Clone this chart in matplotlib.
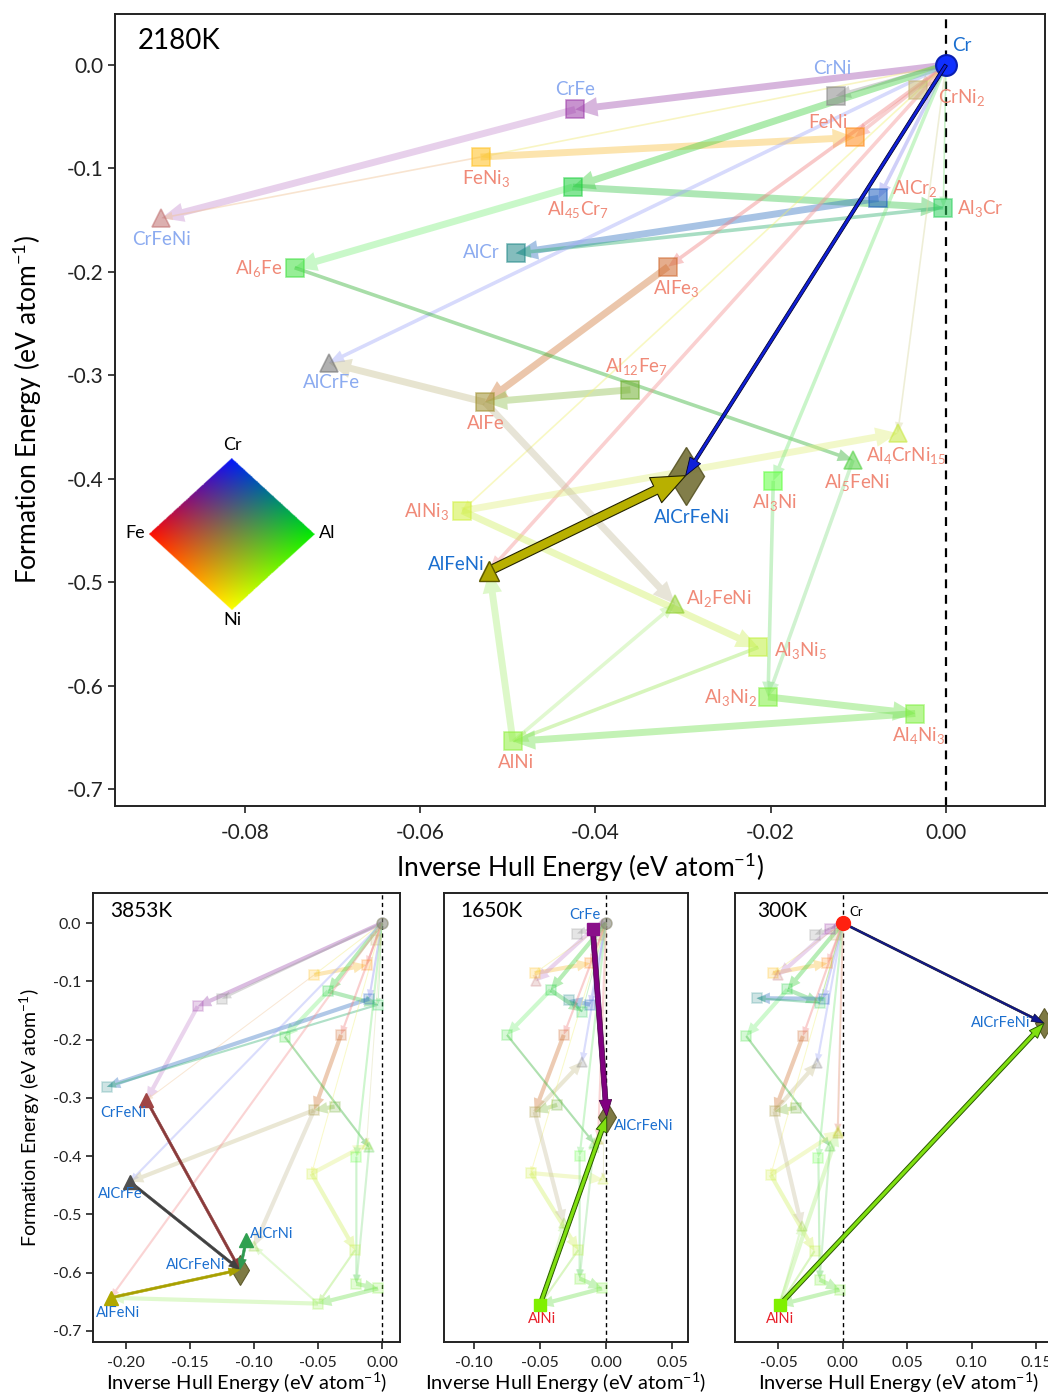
import numpy as np
import matplotlib
matplotlib.use("Agg")
import matplotlib.pyplot as plt
from matplotlib.patches import FancyArrowPatch, ArrowStyle

plt.rcParams['font.family'] = ['Lato', 'DejaVu Sans']
plt.rcParams['mathtext.fontset'] = 'custom'
plt.rcParams['mathtext.rm'] = 'Lato'
plt.rcParams['mathtext.it'] = 'Lato:italic'
plt.rcParams['mathtext.bf'] = 'Lato:bold'
plt.rcParams['mathtext.default'] = 'regular'
plt.rcParams['axes.unicode_minus'] = False

# ------------------------------------------------------------------ data
phases = ["Cr", "CrNi", "CrNi2", "CrFe", "FeNi", "FeNi3", "Al45Cr7", "AlCr2", "Al3Cr",
          "CrFeNi", "AlCr", "Al6Fe", "AlFe3", "AlCrFe", "Al12Fe7", "AlFe", "Al4CrNi15",
          "Al5FeNi", "AlCrFeNi", "Al3Ni", "AlNi3", "AlFeNi", "Al2FeNi", "Al3Ni5", "Al3Ni2",
          "Al4Ni3", "AlNi", "AlCrNi"]
labels = ["Cr", "CrNi", "CrNi$_2$", "CrFe", "FeNi", "FeNi$_3$", "Al$_{45}$Cr$_7$", "AlCr$_2$",
          "Al$_3$Cr", "CrFeNi", "AlCr", "Al$_6$Fe", "AlFe$_3$", "AlCrFe", "Al$_{12}$Fe$_7$",
          "AlFe", "Al$_4$CrNi$_{15}$", "Al$_5$FeNi", "AlCrFeNi", "Al$_3$Ni", "AlNi$_3$",
          "AlFeNi", "Al$_2$FeNi", "Al$_3$Ni$_5$", "Al$_3$Ni$_2$", "Al$_4$Ni$_3$", "AlNi", "AlCrNi"]

# 2180 K (main panel): inverse hull energy / formation energy (eV/atom)
hull_2180 = [0.0, -0.0126, -0.0032, -0.0423, -0.0104, -0.0531, -0.0426, -0.0077, -0.0003,
             -0.0895, -0.0491, -0.0743, -0.0317, -0.0704, -0.0360, -0.0526, -0.0055,
             -0.0106, -0.0297, -0.0197, -0.0552, -0.0521, -0.0309, -0.0214, -0.0203,
             -0.0035, -0.0494, np.nan]
form_2180 = [0.0, -0.030, -0.024, -0.043, -0.070, -0.089, -0.118, -0.129, -0.138,
             -0.148, -0.182, -0.196, -0.195, -0.288, -0.314, -0.326, -0.356,
             -0.382, -0.397, -0.402, -0.431, -0.489, -0.521, -0.563, -0.611,
             -0.627, -0.654, np.nan]

# 3853 K
hull_3853 = [0.0, -0.125, -0.005, -0.144, -0.012, -0.053, -0.042, -0.010, -0.003,
             -0.184, -0.215, -0.076, -0.032, -0.197, -0.037, -0.053, -0.012,
             -0.010, -0.111, -0.020, -0.055, -0.212, -0.100, -0.021, -0.020,
             -0.003, -0.050, -0.106]
form_3853 = [0.0, -0.130, -0.030, -0.143, -0.072, -0.089, -0.117, -0.130, -0.140,
             -0.304, -0.281, -0.195, -0.192, -0.444, -0.315, -0.321, -0.380,
             -0.385, -0.595, -0.401, -0.430, -0.643, -0.555, -0.561, -0.619,
             -0.627, -0.653, -0.544]

# 1650 K
hull_1650 = [0.0, -0.022, -0.005, -0.010, -0.012, -0.054, -0.042, -0.012, -0.018,
             -0.053, -0.028, -0.075, -0.032, -0.018, -0.037, -0.054, -0.002,
             -0.009, 0.0005, -0.020, -0.057, -0.006, -0.032, -0.021, -0.020,
             -0.003, -0.050, np.nan]
form_1650 = [0.0, -0.018, -0.020, -0.011, -0.069, -0.086, -0.115, -0.140, -0.152,
             -0.100, -0.132, -0.192, -0.192, -0.238, -0.312, -0.324, -0.440,
             -0.378, -0.332, -0.400, -0.429, -0.370, -0.515, -0.561, -0.610,
             -0.627, -0.655, np.nan]

# 300 K
hull_300 = [0.0, -0.022, -0.005, -0.010, -0.012, -0.054, -0.043, -0.015, -0.018,
            -0.050, -0.067, -0.075, -0.031, -0.020, -0.036, -0.053, -0.004,
            -0.010, 0.156, -0.019, -0.056, -0.004, -0.032, -0.022, -0.018,
            -0.0026, -0.049, np.nan]
form_300 = [0.0, -0.020, -0.020, -0.011, -0.069, -0.086, -0.114, -0.130, -0.137,
            -0.090, -0.129, -0.194, -0.194, -0.240, -0.317, -0.323, -0.357,
            -0.383, -0.172, -0.403, -0.432, -0.360, -0.520, -0.563, -0.612,
            -0.629, -0.655, np.nan]

# reaction network (source -> product)
edge_src = ["Cr", "Cr", "Cr", "Cr", "FeNi3", "Cr", "CrFe", "FeNi3", "Cr", "Al45Cr7",
            "Al45Cr7", "Cr", "AlCr2", "Al3Cr", "Cr", "AlFe3", "Cr", "AlFe", "Al12Fe7",
            "Al6Fe", "Cr", "Cr", "AlNi3", "AlNi3", "AlFe", "AlNi", "AlNi", "Al3Ni5",
            "Al3Ni", "Al5FeNi", "Al3Ni2", "Al4Ni3", "Cr", "Cr", "Cr"]
edge_dst = ["CrFe", "CrNi", "CrNi2", "FeNi3", "FeNi", "FeNi", "CrFeNi", "CrFeNi", "Al45Cr7",
            "Al6Fe", "Al3Cr", "AlCr2", "AlCr", "AlCr", "AlFe3", "AlFe", "AlCrFe", "AlCrFe",
            "AlFe", "Al5FeNi", "AlFeNi", "AlNi3", "Al4CrNi15", "Al3Ni5", "Al2FeNi", "AlFeNi",
            "Al2FeNi", "AlNi", "Al3Ni2", "Al3Ni2", "Al4Ni3", "AlNi", "Al3Ni", "Al4CrNi15",
            "Al3Cr"]

# highlighted reactions
hl_main = [("Cr", "AlCrFeNi"), ("AlFeNi", "AlCrFeNi")]
hl_3853 = [("CrFeNi", "AlCrFeNi"), ("AlCrFe", "AlCrFeNi"), ("AlCrNi", "AlCrFeNi"),
           ("AlFeNi", "AlCrFeNi")]
hl_1650 = [("CrFe", "AlCrFeNi"), ("AlNi", "AlCrFeNi")]
hl_300 = [("Cr", "AlCrFeNi"), ("AlNi", "AlCrFeNi")]

# ------------------------------------------------------------------ styles
phase_color = {
    "Cr": "#1a3cff", "CrNi": "#8a8a8a", "CrNi2": "#c8b878", "CrFe": "#9b3aa8",
    "FeNi": "#ff8c1a", "FeNi3": "#ffc020", "Al45Cr7": "#20d040", "AlCr2": "#2060c0",
    "Al3Cr": "#30d060", "CrFeNi": "#c07070", "AlCr": "#208888", "Al6Fe": "#40e040",
    "AlFe3": "#d06a30", "AlCrFe": "#707070", "Al12Fe7": "#70b030", "AlFe": "#a09030",
    "Al4CrNi15": "#c8e840", "Al5FeNi": "#50d040", "AlCrFeNi": "#77733a", "Al3Ni": "#60ff40",
    "AlNi3": "#d0f040", "AlFeNi": "#b0a800", "Al2FeNi": "#90d030", "Al3Ni5": "#c0f040",
    "Al3Ni2": "#80f040", "Al4Ni3": "#80f040", "AlNi": "#90f040", "AlCrNi": "#30a050"}
tri = {"CrFeNi", "AlCrFe", "Al4CrNi15", "Al5FeNi", "AlFeNi", "Al2FeNi", "AlCrNi"}

def marker_of(p):
    if p == "Cr":
        return "o"
    if p == "AlCrFeNi":
        return "d"
    if p in tri:
        return "^"
    return "s"

edge_color = ["#a050b0", "#9a9a9a", "#c8c090", "#f0e870", "#f8c040", "#f09090", "#c890d0",
              "#f0c090", "#40d040", "#80f080", "#40c850", "#9090f0", "#3070c0", "#30b070",
              "#f08080", "#d07838", "#a0a8f8", "#c8c090", "#90c050", "#30b030", "#f49090",
              "#f0f070", "#e0f080", "#d0f060", "#c8c0a0", "#b0f080", "#b8f090", "#a0e860",
              "#80e080", "#90e090", "#70e050", "#70e050", "#80e880", "#d8d8a0", "#80e080"]
edge_weight = [3, 2, 2, 1, 3, 2, 3, 1, 3, 3, 3, 2, 3, 2, 2, 3, 2, 3, 3, 2, 2, 1, 3, 3, 3, 3,
               2, 2, 2, 2, 3, 3, 2, 1, 1]
TAIL = {1: 1.2, 2: 2.6, 3: 5.0}
HW = {1: 6.0, 2: 9.0, 3: 14.0}
HL = {1: 8.0, 2: 11.0, 3: 16.0}

salmon = "#f08a78"
lblue = "#8cabf0"
dblue = "#1a6ecf"
lab_color = {p: salmon for p in phases}
for p in ["CrNi", "CrFe", "CrFeNi", "AlCr", "AlCrFe"]:
    lab_color[p] = lblue
for p in ["Cr", "AlCrFeNi", "AlFeNi"]:
    lab_color[p] = dblue

# label offsets (pixels) for main panel: dx, dy, ha
lab_off = {
    "Cr": (6, 19, "left"), "CrNi": (-3, 28, "center"), "CrNi2": (20, -8, "left"),
    "CrFe": (0, 20, "center"), "FeNi": (-27, 15, "center"), "FeNi3": (6, -21, "center"),
    "Al45Cr7": (5, -22, "center"), "AlCr2": (14, 10, "left"), "Al3Cr": (14, -1, "left"),
    "CrFeNi": (0, -21, "center"), "AlCr": (-16, 1, "right"), "Al6Fe": (-13, -1, "right"),
    "AlFe3": (8, -22, "center"), "AlCrFe": (3, -20, "center"), "Al12Fe7": (6, 23, "center"),
    "AlFe": (1, -21, "center"), "Al4CrNi15": (-32, -22, "left"), "Al5FeNi": (4, -22, "center"),
    "AlCrFeNi": (6, -42, "center"), "Al3Ni": (1, -22, "center"), "AlNi3": (-13, -1, "right"),
    "AlFeNi": (-5, 6, "right"), "Al2FeNi": (11, 5, "left"), "Al3Ni5": (16, -3, "left"),
    "Al3Ni2": (-11, -1, "right"), "Al4Ni3": (3, -22, "center"), "AlNi": (3, -21, "center")}

W, H = 1048, 1397
fig = plt.figure(figsize=(W / 100, H / 100), dpi=100)


def ax_rect(l, t, r, b):
    return [l / W, 1 - b / H, (r - l) / W, (b - t) / H]


def arrow(ax, p, q, color, tail, hw, hl, alpha=1.0, ec=None, elw=0.0, z=2):
    st = ArrowStyle.Simple(head_length=hl, head_width=hw, tail_width=tail)
    a = FancyArrowPatch(p, q, arrowstyle=st, mutation_scale=1, shrinkA=0, shrinkB=0,
                        facecolor=color, edgecolor=(ec if ec else "none"), lw=elw,
                        alpha=alpha, zorder=z)
    ax.add_patch(a)


def draw_network(ax, hx, hy, scale, e_alpha, m_alpha, msize, skip):
    pos = {p: (hx[i], hy[i]) for i, p in enumerate(phases)}
    for s, d, c, w in zip(edge_src, edge_dst, edge_color, edge_weight):
        if s in skip or d in skip:
            continue
        if np.isnan(pos[s][0]) or np.isnan(pos[d][0]):
            continue
        arrow(ax, pos[s], pos[d], c, TAIL[w] * scale, HW[w] * scale, HL[w] * scale,
              alpha=e_alpha, z=2)
    for p in phases:
        if p in skip or np.isnan(pos[p][0]):
            continue
        m = marker_of(p)
        ms = msize * (1.05 if m == "^" else 1.0)
        if m == "o":
            ms = msize * 1.1
        ax.plot(pos[p][0], pos[p][1], marker=m, ms=ms, mfc=phase_color[p],
                mec=phase_color[p], mew=1.2, alpha=m_alpha, zorder=3, ls="none")
    return pos


def style_axes(ax, fs):
    for sp in ax.spines.values():
        sp.set_linewidth(1.4)
        sp.set_color("#222222")
    ax.tick_params(direction="out", length=5, width=1.2, labelsize=fs, colors="#222222")


# ------------------------------------------------------------------ main panel
ax = fig.add_axes(ax_rect(115, 14, 1045, 806))
ax.set_xlim(-0.0948, 0.0113)
ax.set_ylim(-0.7164, 0.0493)
style_axes(ax, 15)
ax.tick_params(axis="x", pad=7)
ax.axvline(0, color="black", ls=(0, (4, 3)), lw=1.6, zorder=1)
skip_main = {"AlCrFeNi", "AlCrNi"}
pos = draw_network(ax, hull_2180, form_2180, 1.0, 0.42, 0.55, 13, skip_main)
# Cr marker stronger
ax.plot(0, 0, "o", ms=15, mfc="#1030ff", mec="#0a1fb0", mew=1.5, zorder=6)
# highlighted reactions
pos["AlCrFeNi"] = (hull_2180[phases.index("AlCrFeNi")], form_2180[phases.index("AlCrFeNi")])
ax.plot(*pos["AlCrFeNi"], marker="d", ms=30, mfc="#77733a", mec="#5a5628", mew=1.0,
        alpha=0.92, zorder=5)
(s1, d1), (s2, d2) = hl_main
arrow(ax, pos[s1], pos[d1], "#1020d8", 2.4, 9, 13, ec="#000030", elw=0.6, z=7)
arrow(ax, pos[s2], pos[d2], "#b8b000", 6.5, 20, 24, ec="#222200", elw=0.8, z=7)
ax.plot(*pos["AlFeNi"], marker="^", ms=15, mfc="#b0a800", mec="#5a5600", mew=1.0, zorder=8)

for p in phases:
    if p not in lab_off:
        continue
    dx, dy, ha = lab_off[p]
    ax.annotate(labels[phases.index(p)], pos[p], xytext=(dx, dy), textcoords="offset pixels",
                ha=ha, va="center", fontsize=13.5, color=lab_color[p], zorder=9)

ax.set_xticks([-0.08, -0.06, -0.04, -0.02, 0.0])
ax.set_xticklabels(["-0.08", "-0.06", "-0.04", "-0.02", "0.00"])
ax.set_yticks([0.0, -0.1, -0.2, -0.3, -0.4, -0.5, -0.6, -0.7])
ax.set_yticklabels(["0.0", "-0.1", "-0.2", "-0.3", "-0.4", "-0.5", "-0.6", "-0.7"])
ax.set_xlabel("Inverse Hull Energy (eV atom$^{-1}$)", fontsize=19, labelpad=6)
ax.set_ylabel("Formation Energy (eV atom$^{-1}$)", fontsize=19, labelpad=16)
fig.text(138 / W, 1 - 41 / H, "2180K", fontsize=20, va="center", ha="left")

# composition colour key
lax = fig.add_axes(ax_rect(149, 458, 315, 610))
n = 301
u = np.linspace(-1, 1, n)
X, Y = np.meshgrid(u, u[::-1])
a = (X + Y + 1) / 2
b = (Y - X + 1) / 2
cCr = np.array([0.0, 0.08, 1.0])
cAl = np.array([0.0, 0.92, 0.0])
cNi = np.array([1.0, 1.0, 0.0])
cFe = np.array([1.0, 0.05, 0.0])
img = (((1 - a) * (1 - b))[..., None] * cNi + (a * (1 - b))[..., None] * cAl
       + ((1 - a) * b)[..., None] * cFe + (a * b)[..., None] * cCr)
mask = (np.abs(X) + np.abs(Y) <= 1.0).astype(float)
lax.imshow(np.dstack([np.clip(img, 0, 1), mask]), extent=[-1, 1, -1, 1], aspect="auto",
           interpolation="bilinear")
lax.axis("off")
for t, (px, py) in {"Cr": (232, 445), "Fe": (135, 533), "Al": (327, 533),
                    "Ni": (232, 620)}.items():
    fig.text(px / W, 1 - py / H, t, ha="center", va="center", fontsize=13)

# ------------------------------------------------------------------ bottom panels
bot = [
    dict(rect=(93, 893, 400, 1342), xlim=(-0.2258, 0.0141), hx=hull_3853, hy=form_3853,
         hl=hl_3853, title="3853K",
         xt=[-0.20, -0.15, -0.10, -0.05, 0.0]),
    dict(rect=(444, 893, 688, 1342), xlim=(-0.1227, 0.0621), hx=hull_1650, hy=form_1650,
         hl=hl_1650, title="1650K",
         xt=[-0.10, -0.05, 0.0, 0.05]),
    dict(rect=(735, 893, 1062, 1342), xlim=(-0.0837, 0.170), hx=hull_300, hy=form_300,
         hl=hl_300, title="300K",
         xt=[-0.05, 0.0, 0.05, 0.10, 0.15]),
]
hl_style = [
    [("#8a3a3a", "^", "#a04545"), ("#404040", "^", "#505050"), ("#2f9a50", "^", "#30a050"),
     ("#a8a000", "^", "#b0a800")],
    [("#800080", "s", "#8a108a"), ("#80e010", "s", "#80f000")],
    [("#101890", "o", "#ff2010"), ("#80e010", "s", "#80f000")],
]
bot_labels = [
    {"CrFeNi": (-23, -13, "center"), "AlCrFe": (-10, -12, "center"),
     "AlCrNi": (4, 6, "left"), "AlCrFeNi": (-14, 5, "right"), "AlFeNi": (7, -15, "center")},
    {"CrFe": (-8, 14, "center"), "AlCrFeNi": (7, -9, "left"), "AlNi": (2, -14, "center")},
    {"Cr": (6, 11, "left"), "AlCrFeNi": (-14, 0, "right"), "AlNi": (0, -14, "center")},
]
bot_lab_color = [
    {"CrFeNi": dblue, "AlCrFe": dblue, "AlCrNi": dblue, "AlCrFeNi": dblue, "AlFeNi": dblue},
    {"CrFe": dblue, "AlCrFeNi": dblue, "AlNi": "#e8202a"},
    {"Cr": "black", "AlCrFeNi": dblue, "AlNi": "#e8202a"},
]

for k, cfg in enumerate(bot):
    bx = fig.add_axes(ax_rect(*cfg["rect"]))
    bx.set_xlim(*cfg["xlim"])
    bx.set_ylim(-0.7189, 0.0515)
    style_axes(bx, 11.5)
    bx.tick_params(axis="x", pad=5)
    bx.axvline(0, color="black", ls=(0, (3, 2.5)), lw=1.0, zorder=1)
    skip = {"AlCrFeNi", "AlCrNi"}
    bpos = draw_network(bx, cfg["hx"], cfg["hy"], 0.6, 0.38, 0.22, 7, skip)
    bpos["AlCrFeNi"] = (cfg["hx"][phases.index("AlCrFeNi")], cfg["hy"][phases.index("AlCrFeNi")])
    if not np.isnan(cfg["hx"][phases.index("AlCrNi")]):
        bpos["AlCrNi"] = (cfg["hx"][phases.index("AlCrNi")], cfg["hy"][phases.index("AlCrNi")])
    # faint olive Cr marker
    bx.plot(0, 0, "o", ms=8, mfc="#a09850", mec="#a09850", alpha=0.45, zorder=4)
    bx.plot(*bpos["AlCrFeNi"], marker="d", ms=15, mfc="#77733a", mec="#5a5628", mew=0.8,
            alpha=0.95, zorder=5)
    for (s, d), (ac, mk, mc) in zip(cfg["hl"], hl_style[k]):
        if k == 0:
            arrow(bx, bpos[s], bpos[d], ac, 1.8, 6, 8, ec=ac, elw=0.4, z=7)
        elif s == "Cr":
            arrow(bx, bpos[s], bpos[d], ac, 1.5, 6, 9, ec="#000020", elw=0.4, z=7)
        elif s == "AlNi":
            arrow(bx, bpos[s], bpos[d], ac, 3.0, 8, 11, ec="#2a5a00", elw=0.7, z=7)
        else:
            arrow(bx, bpos[s], bpos[d], ac, 3.6, 9, 12, ec="#400040", elw=0.5, z=7)
        ms = 10 if mk in ("^", "o") else 9
        bx.plot(*bpos[s], marker=mk, ms=ms, mfc=mc, mec=mc, zorder=8)
    for p, (dx, dy, ha) in bot_labels[k].items():
        bx.annotate(labels[phases.index(p)], bpos[p], xytext=(dx, dy),
                    textcoords="offset pixels", ha=ha, va="center",
                    fontsize=(9.5 if p == "Cr" else 10.5), color=bot_lab_color[k][p], zorder=9)
    bx.set_xticks(cfg["xt"])
    bx.set_xticklabels(["%.2f" % v for v in cfg["xt"]])
    if k == 0:
        bx.set_yticks([0.0, -0.1, -0.2, -0.3, -0.4, -0.5, -0.6, -0.7])
        bx.set_yticklabels(["0.0", "-0.1", "-0.2", "-0.3", "-0.4", "-0.5", "-0.6", "-0.7"])
        bx.set_ylabel("Formation Energy (eV atom$^{-1}$)", fontsize=14, labelpad=8)
    else:
        bx.set_yticks([])
    bx.set_xlabel("Inverse Hull Energy (eV atom$^{-1}$)", fontsize=14.5, labelpad=1)
    tx = (cfg["rect"][0] + {0: 17, 1: 16, 2: 22}[k]) / W
    fig.text(tx, 1 - 911 / H, cfg["title"], fontsize=15, va="center", ha="left")

fig.savefig("out.png", dpi=100)
